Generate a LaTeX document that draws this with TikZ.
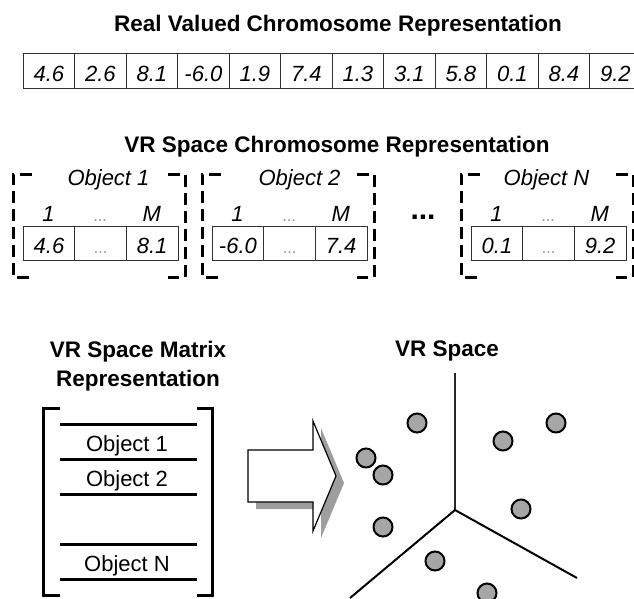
\documentclass[tikz,border=0pt]{standalone}
\usepackage{fontspec}
\setmainfont{Liberation Sans}
\usetikzlibrary{calc}
\begin{document}
\begin{tikzpicture}[x=1pt,y=-1pt,
  title/.style={font=\fontsize{22.5}{26}\selectfont\bfseries, anchor=base, inner sep=0pt},
  plain/.style={font=\fontsize{22}{24}\selectfont, anchor=base, inner sep=0pt},
  ital/.style={font=\fontsize{22}{24}\selectfont\itshape, anchor=base, inner sep=0pt},
  cell/.style={draw=black!80, line width=0.9pt, minimum width=51.5pt, minimum height=35pt,
    inner sep=0pt, anchor=north west, font=\fontsize{22}{24}\selectfont\itshape,
    text height=21.8pt, text depth=0pt},
  ocell/.style={cell, minimum width=51.6pt, minimum height=34pt, text height=19.8pt},
  dim/.style={text=black!45, font=\fontsize{16}{18}\selectfont},
  dbracket/.style={line width=3pt, dash pattern=on 12pt off 6pt, line cap=butt},
  mbracket/.style={line width=3pt},
  mline/.style={line width=3pt},
  ball/.style={circle, draw=black, line width=2pt, fill=black!35, minimum size=19pt, inner sep=0pt},
  axis/.style={line width=2pt}
]
\useasboundingbox (0,0) rectangle (634,598);
\clip (0,0) rectangle (634,598);

% top title and array
\node[title] (t1) at (338,31) {Real Valued Chromosome Representation};
\foreach \v [count=\i from 0] in {4.6,2.6,8.1,-6.0,1.9,7.4,1.3,3.1,5.8,0.1,8.4,9.2}{
  \node[cell] (a\i) at ({22.7+51.5*\i},53) {\v};
}

% second title
\node[title] (t2) at (337,152) {VR Space Chromosome Representation};

% objects
\foreach \k/\x/\lx/\name/\va/\vb in {1/22.7/108.5/Object 1/4.6/8.1, 2/211.7/299.5/Object 2/-6.0/7.4, 3/470.7/546.5/Object N/0.1/9.2}{
  \node[ocell] (o\k a) at (\x,226) {\va};
  \node[ocell] (o\k b) at ({\x+51.6},226) {\textcolor{black!45}{\fontsize{16}{18}\selectfont\upshape...}};
  \node[ocell] (o\k c) at ({\x+103.2},226) {\vb};
  \node[ital] (on\k) at (\lx,185) {\name};
  \node[ital] (i\k a) at ({\x+25.8},221.7) {1};
  \node[anchor=base, inner sep=0pt, dim] (i\k b) at ({\x+77.4},221.7) {...};
  \node[ital] (i\k c) at ({\x+129},221.7) {M};
  \coordinate (bl\k) at ({\x-9.7},174);
  \coordinate (br\k) at ({\x+162.5},174);
  \draw[dbracket] ($(bl\k)+(19,0)$) -- (bl\k) -- ++(0,103) -- ++(19,0);
  \draw[dbracket] ($(br\k)+(-17,0)$) -- (br\k) -- ++(0,103) -- ++(-17,0);
}
\node[anchor=base, inner sep=0pt, font=\fontsize{30}{30}\selectfont\bfseries] (dots) at (423,219) {...};

% matrix representation
\node[title] (t3) at (138,357) {VR Space Matrix};
\node[title] (t4) at (138,386) {Representation};
\coordinate (ml) at (43,408);
\coordinate (mr) at (212,408);
\draw[mbracket] (60,408) -- (ml) -- (43,595) -- (60,595);
\draw[mbracket] (197,408) -- (mr) -- (212,595) -- (197,595);
\foreach \yy [count=\j] in {424,459,494,544,579}{
  \coordinate (ls\j) at (60,\yy);
  \coordinate (le\j) at (197,\yy);
  \draw[mline] (ls\j) -- (le\j);
}
\node[plain] (m1) at (127,451) {Object 1};
\node[plain] (m2) at (127,486.5) {Object 2};
\node[plain] (m3) at (127,571.5) {Object N};

% arrow
\fill[black!38] (256,457) -- (321,457) -- (321,428) -- (344,483) -- (321,538) -- (321,509) -- (256,509) -- cycle;
\draw[fill=white, line width=1.2pt, line join=miter] (248,450) -- (313,450) -- (313,421) -- (336,476) -- (313,531) -- (313,502) -- (248,502) -- cycle;

% VR space
\node[title] (t5) at (447,356) {VR Space};
\coordinate (c0) at (455,510);
\coordinate (ctop) at (455,373);
\coordinate (cl) at (350,598);
\coordinate (cr) at (577,578);
\draw[line width=1.3pt, black!85] (ctop) -- (c0);
\draw[axis] (cl) -- (c0) -- (cr);
\foreach \bx/\by [count=\n] in {417/423, 366/458, 383/475, 383/527, 435/561, 487/593, 503/441, 556/423, 521/509}{
  \node[ball] (b\n) at (\bx,\by) {};
}
\end{tikzpicture}
\end{document}
